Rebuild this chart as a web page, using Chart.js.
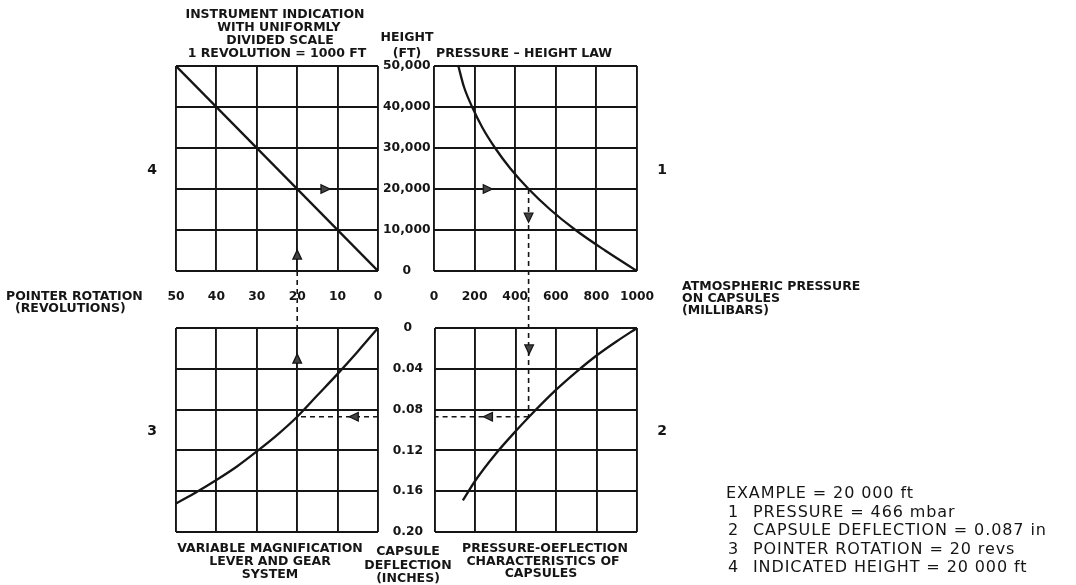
<!DOCTYPE html>
<html>
<head>
<meta charset="utf-8">
<script src="https://cdn.jsdelivr.net/npm/chart.js@4.4.1/dist/chart.umd.min.js"></script>
<style>
  html, body { margin: 0; padding: 0; background: #fff; }
  #wrap { position: relative; width: 1076px; height: 585px; overflow: hidden; background: #fff; }
  #wrap canvas { position: absolute; left: 0; top: 0; width: 1076px; height: 585px; }
  .b { position: absolute; font-family: "DejaVu Sans", sans-serif; font-weight: bold; font-size: 12.5px;
       line-height: 13px; color: #151515; white-space: nowrap; transform: translate(-50%, -50%); }
  .l { transform: translate(0, -50%); }
  .q { font-size: 14px; }
  .ex { position: absolute; font-family: "DejaVu Sans", sans-serif; font-size: 16px; letter-spacing: 0.9px;
        line-height: 18px; color: #151515; white-space: nowrap; transform: translate(0, -50%); }
</style>
</head>
<body>
<div id="wrap">
  <canvas id="tl" width="1076" height="585"></canvas>
  <canvas id="tr" width="1076" height="585"></canvas>
  <canvas id="bl" width="1076" height="585"></canvas>
  <canvas id="br" width="1076" height="585"></canvas>

  <div class="b" style="left:275px;top:13px">INSTRUMENT INDICATION</div>
  <div class="b" style="left:279px;top:26px">WITH UNIFORMLY</div>
  <div class="b" style="left:280px;top:39px">DIVIDED SCALE</div>
  <div class="b" style="left:277px;top:52px">1 REVOLUTION = 1000 FT</div>

  <div class="b" style="left:407px;top:36px">HEIGHT</div>
  <div class="b" style="left:407px;top:51.5px">(FT)</div>
  <div class="b l" style="left:436px;top:52px">PRESSURE – HEIGHT LAW</div>

  <div class="b q" style="left:152px;top:169px">4</div>
  <div class="b q" style="left:662px;top:169px">1</div>
  <div class="b q" style="left:152px;top:430px">3</div>
  <div class="b q" style="left:662px;top:430px">2</div>

  <div class="b l" style="left:6px;top:295px">POINTER ROTATION</div>
  <div class="b l" style="left:15px;top:307px">(REVOLUTIONS)</div>

  <div class="b l" style="left:682px;top:285px">ATMOSPHERIC PRESSURE</div>
  <div class="b l" style="left:682px;top:297px">ON CAPSULES</div>
  <div class="b l" style="left:682px;top:308.5px">(MILLIBARS)</div>

  <div class="b" style="left:270px;top:547px">VARIABLE MAGNIFICATION</div>
  <div class="b" style="left:270px;top:560px">LEVER AND GEAR</div>
  <div class="b" style="left:270px;top:572.5px">SYSTEM</div>

  <div class="b" style="left:408px;top:550px">CAPSULE</div>
  <div class="b" style="left:408px;top:563.5px">DEFLECTION</div>
  <div class="b" style="left:408px;top:577px">(INCHES)</div>

  <div class="b" style="left:545px;top:547px">PRESSURE-OEFLECTION</div>
  <div class="b" style="left:543px;top:559.5px">CHARACTERISTICS OF</div>
  <div class="b" style="left:541px;top:572px">CAPSULES</div>

  <div class="ex" style="left:726px;top:493px">EXAMPLE = 20 000 ft</div>
  <div class="ex" style="left:728px;top:511.5px">1</div>
  <div class="ex" style="left:753px;top:511.5px">PRESSURE = 466 mbar</div>
  <div class="ex" style="left:728px;top:530px">2</div>
  <div class="ex" style="left:753px;top:530px">CAPSULE DEFLECTION = 0.087 in</div>
  <div class="ex" style="left:728px;top:548.5px">3</div>
  <div class="ex" style="left:753px;top:548.5px">POINTER ROTATION = 20 revs</div>
  <div class="ex" style="left:728px;top:567px">4</div>
  <div class="ex" style="left:753px;top:567px">INDICATED HEIGHT = 20 000 ft</div>
</div>

<script>
// ---- scale divisions and tick labels ----
const revTicks = [0, 10, 20, 30, 40, 50];
const revLabels = ['0', '10', '20', '30', '40', '50'];
const heightTicks = [0, 10000, 20000, 30000, 40000, 50000];
const heightLabels = ['0', '10,000', '20,000', '30,000', '40,000', '50,000'];
const pressureTicks = [0, 200, 400, 600, 800, 1000];
const pressureLabels = ['0', '200', '400', '600', '800', '1000'];
const deflTicks = [0, 0.04, 0.08, 0.12, 0.16, 0.20];
const deflLabels = ['0', '0.04', '0.08', '0.12', '0.16', '0.20'];

// ---- quadrant 4: uniformly divided indicator, 1 rev = 1000 ft ----
const indRevs = [0, 50];
const indHeight = [0, 50000];

// ---- quadrant 1: pressure - height law ----
const lawPressure = [120, 147, 188, 238, 301, 376, 466, 572, 697, 843, 1000];
const lawHeight = [50000, 45000, 40000, 35000, 30000, 25000, 20000, 15000, 10000, 5000, 0];

// ---- quadrant 2: capsule deflection against pressure ----
const capPressure = [138, 200, 300, 400, 466, 600, 700, 800, 900, 1000];
const capDefl = [0.169, 0.1495, 0.1235, 0.101, 0.087, 0.0605, 0.043, 0.027, 0.013, 0];

// ---- quadrant 3: lever and gear magnification ----
const gearRevs = [0, 5, 10, 15, 20, 25, 30, 35, 40, 45, 50];
const gearDefl = [0, 0.023, 0.045, 0.066, 0.087, 0.105, 0.121, 0.136, 0.149, 0.161, 0.172];

// ---- worked example ----
const exHeight = 20000;
const exPressure = 466;
const exDefl = 0.087;
const exRevs = 20;

// direction markers along the example path (panel, x value, y value, heading)
const markPanel = ['tl', 'tr', 'tr', 'br', 'br', 'bl', 'bl', 'tl'];
const markX = [13, 265, exPressure, exPressure, 262, 6, exRevs, exRevs];
const markY = [exHeight, exHeight, 13000, 0.021, exDefl, exDefl, 0.030, 4000];
const markDir = ['right', 'right', 'down', 'down', 'left', 'left', 'up', 'up'];

// ---- drawing ----
const PAGE_W = 1076, PAGE_H = 585;
const INK = '#151515';
const FONT = 'DejaVu Sans';
const charts = {};

function axis(a) {
  return {
    type: 'linear',
    position: a.position,
    min: a.ticks[0],
    max: a.ticks[a.ticks.length - 1],
    reverse: !!a.reverse,
    afterBuildTicks: s => { s.ticks = a.ticks.map(v => ({ value: v })); },
    afterFit: s => { if (s.isHorizontal()) s.height = a.size || 0; else s.width = a.size || 0; },
    grid: { color: INK, lineWidth: 1.9, drawTicks: false },
    border: { display: false },
    ticks: {
      display: !!a.labels,
      autoSkip: false,
      maxRotation: 0,
      padding: a.padding || 0,
      crossAlign: a.crossAlign || 'near',
      color: INK,
      font: { family: FONT, size: 12.3, weight: 'bold' },
      callback: (v, i) => (a.labels ? a.labels[i] : '')
    }
  };
}

function panel(id, box, xs, ys, xAxis, yAxis, plugins) {
  charts[id] = new Chart(document.getElementById(id), {
    type: 'scatter',
    data: {
      datasets: [{
        data: xs.map((x, i) => ({ x: x, y: ys[i] })),
        showLine: true,
        borderColor: INK,
        borderWidth: 2.3,
        pointRadius: 0,
        cubicInterpolationMode: 'monotone',
        fill: false
      }]
    },
    options: {
      responsive: false,
      animation: false,
      events: [],
      layout: {
        padding: {
          left: box[0] - (yAxis.size || 0),
          top: box[1],
          right: PAGE_W - box[2],
          bottom: PAGE_H - box[3] - (xAxis.size || 0)
        }
      },
      plugins: { legend: { display: false }, tooltip: { enabled: false } },
      scales: { x: axis(xAxis), y: axis(yAxis) }
    },
    plugins: plugins || []
  });
}

function seg(ctx, x1, y1, x2, y2) {
  ctx.beginPath();
  ctx.moveTo(x1, y1);
  ctx.lineTo(x2, y2);
  ctx.stroke();
}

function arrowHead(ctx, x, y, dir) {
  const len = 9, half = 4.3;
  const rot = { right: 0, down: Math.PI / 2, left: Math.PI, up: -Math.PI / 2 }[dir];
  ctx.save();
  ctx.translate(x, y);
  ctx.rotate(rot);
  ctx.beginPath();
  ctx.moveTo(len / 2, 0);
  ctx.lineTo(-len / 2, -half);
  ctx.lineTo(-len / 2, half);
  ctx.closePath();
  ctx.setLineDash([]);
  ctx.fillStyle = '#444';
  ctx.fill();
  ctx.lineWidth = 1.3;
  ctx.strokeStyle = INK;
  ctx.stroke();
  ctx.restore();
}

// example path: dashed leaders between the four curves plus heading marks
const examplePath = {
  id: 'examplePath',
  afterDraw(chart) {
    const ctx = chart.ctx;
    const tl = charts.tl, tr = charts.tr, bl = charts.bl, br = chart;
    const px = (c, ax, v) => c.scales[ax].getPixelForValue(v);
    ctx.save();
    ctx.strokeStyle = INK;
    ctx.lineWidth = 1.6;
    ctx.setLineDash([5, 4]);
    const xp = px(tr, 'x', exPressure);
    seg(ctx, xp, px(tr, 'y', exHeight), xp, px(br, 'y', exDefl));
    // capsule deflection carried across to the gear curve
    const yd = px(br, 'y', exDefl);
    seg(ctx, xp, yd, br.chartArea.left, yd);
    seg(ctx, bl.chartArea.right, yd, px(bl, 'x', exRevs), yd);
    // pointer rotation carried up between the left-hand panels
    const xr = px(tl, 'x', exRevs);
    seg(ctx, xr, tl.chartArea.bottom, xr, bl.chartArea.top);
    ctx.restore();

    const panels = { tl: tl, tr: tr, bl: bl, br: br };
    markPanel.forEach((p, i) => {
      const c = panels[p];
      arrowHead(ctx, px(c, 'x', markX[i]), px(c, 'y', markY[i]), markDir[i]);
    });
  }
};

panel('tl', [176, 66, 378, 271], indRevs, indHeight,
  { position: 'bottom', ticks: revTicks, labels: revLabels, reverse: true, padding: 18.6, size: 40 },
  { position: 'left', ticks: heightTicks });

panel('tr', [434, 66, 637, 271], lawPressure, lawHeight,
  { position: 'bottom', ticks: pressureTicks, labels: pressureLabels, padding: 18.6, size: 40 },
  { position: 'left', ticks: heightTicks, labels: heightLabels, crossAlign: 'center', padding: 3.5, size: 56 });

panel('bl', [176, 328, 378, 532], gearRevs, gearDefl,
  { position: 'bottom', ticks: revTicks, reverse: true },
  { position: 'left', ticks: deflTicks, reverse: true });

panel('br', [435, 328, 637, 532], capPressure, capDefl,
  { position: 'bottom', ticks: pressureTicks },
  { position: 'left', ticks: deflTicks, labels: deflLabels, reverse: true, crossAlign: 'center', padding: 12, size: 56 },
  [examplePath]);
</script>
</body>
</html>
